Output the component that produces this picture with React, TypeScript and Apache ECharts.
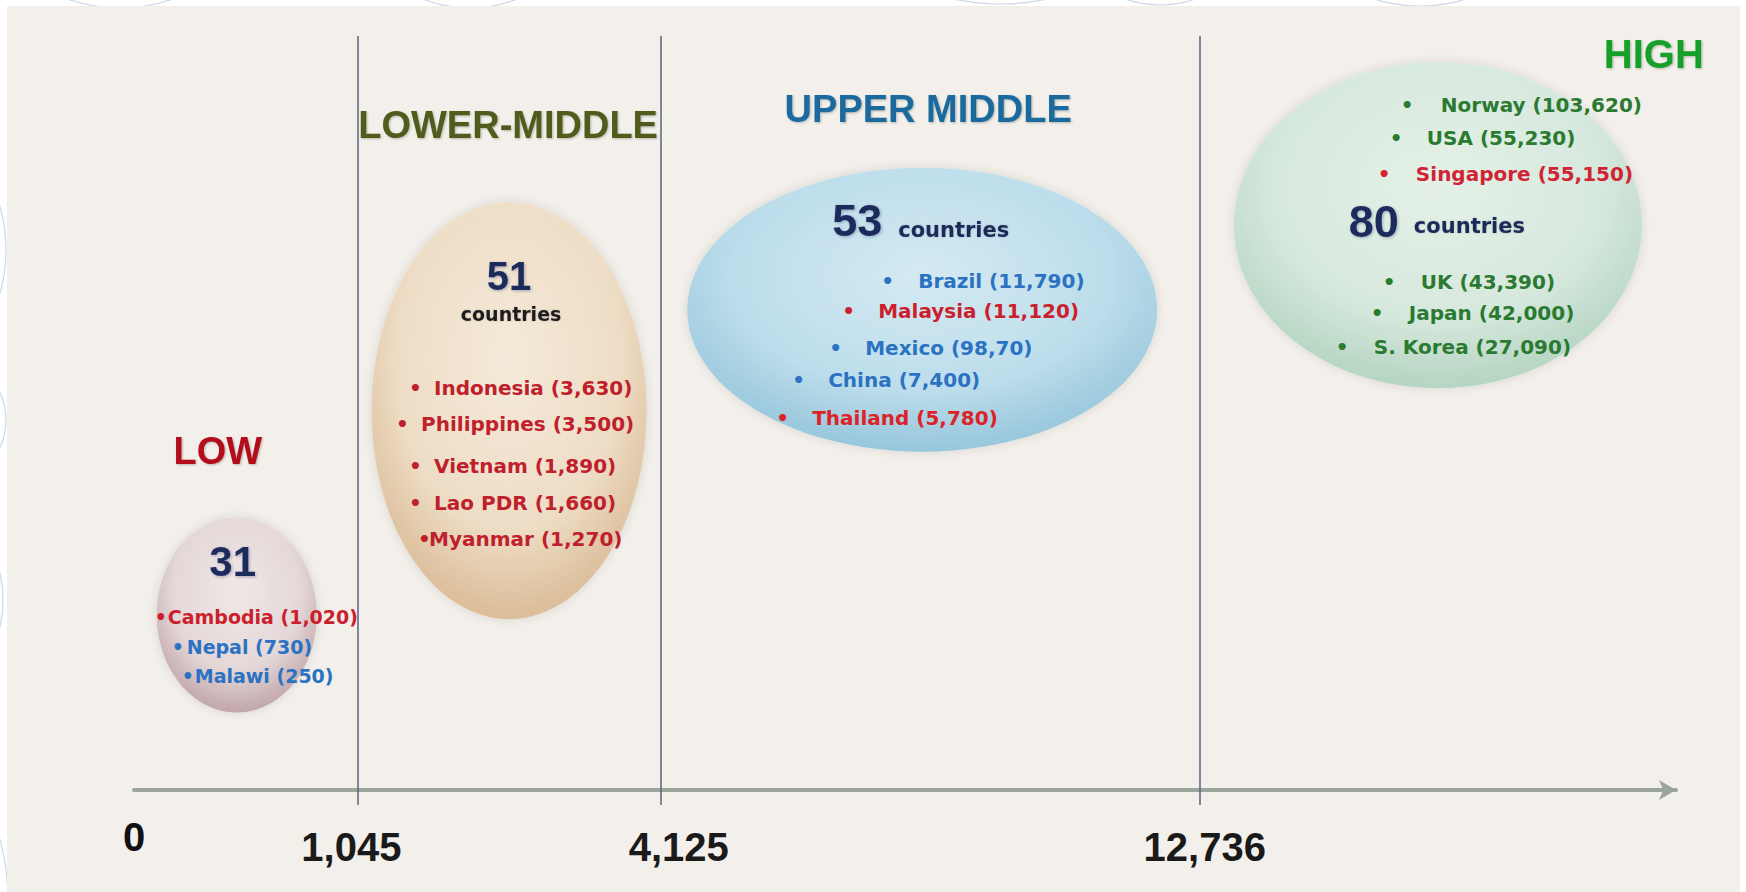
import React, { useEffect, useRef } from 'react';
import * as echarts from 'echarts';

// ---------------- data ----------------
const thresholds = [0, 1045, 4125, 12736];
const thresholdLabels = ['0', '1,045', '4,125', '12,736'];
const axisMaxIncome = 23000;

const groupNames = ['LOW', 'LOWER-MIDDLE', 'UPPER MIDDLE', 'HIGH'];
const groupCounts = [31, 51, 53, 80];

const lowCountries = ['Cambodia', 'Nepal', 'Malawi'];
const lowGni = ['1,020', '730', '250'];
const lowerMiddleCountries = ['Indonesia', 'Philippines', 'Vietnam', 'Lao PDR', 'Myanmar'];
const lowerMiddleGni = ['3,630', '3,500', '1,890', '1,660', '1,270'];
const upperMiddleCountries = ['Brazil', 'Malaysia', 'Mexico', 'China', 'Thailand'];
const upperMiddleGni = ['11,790', '11,120', '98,70', '7,400', '5,780'];
const highCountries = ['Norway', 'USA', 'Singapore', 'UK', 'Japan', 'S. Korea'];
const highGni = ['103,620', '55,230', '55,150', '43,390', '42,000', '27,090'];

const groupCountries = [lowCountries, lowerMiddleCountries, upperMiddleCountries, highCountries];
const groupGni = [lowGni, lowerMiddleGni, upperMiddleGni, highGni];

// ---------------- layout & styles ----------------
const POWER = 0.625; // display scale for the income axis
const scale = (v: number) => Math.pow(v, POWER);

const bubbleAnchor = [0.46, 0.5, 0.485, 0.5]; // where the bubble sits within its income band
const bubbleLevel = [23.2, 50.3, 63.7, 74.9]; // vertical placement on hidden 0-100 axis
const bubbleSize = [
  [160, 195],
  [275, 417],
  [470, 284],
  [408, 326],
];
const bubbleColors = [
  ['#f2eaea', '#e3d4d6', '#b8979d'],
  ['#f8ecd9', '#f0dcc0', '#d8b388'],
  ['#d0ecf6', '#b3dcee', '#84bfdb'],
  ['#e4f3ea', '#d3eadd', '#a9d1bb'],
];
const titleColors = ['#b3111e', '#4f5b1d', '#1b6b9d', '#19a02c'];
const titleSize = [38, 38, 38, 40];
const titleOffset = [
  [-19, -164],
  [-1, -286],
  [6, -201],
  [216, -171],
];
const numberOffset = [
  [-4, -54],
  [0, -135],
  [-65, -89],
  [-64, -4],
];
const numberSize = [42, 40, 45, 45];
const wordLayout: any[] = [
  null,
  { dx: 2, dy: -97, align: 'center', size: 19, color: '#1e1e1e' },
  { dx: -24, dy: -80, align: 'left', size: 21, color: '#1c2b5a' },
  { dx: -24, dy: 1, align: 'left', size: 21, color: '#1c2b5a' },
];
const lineLayout = [
  [[-82, 2, 13], [-65, 32, 15], [-55, 61, 13]],
  [[-100, -23, 25], [-113, 13, 25], [-100, 55, 25], [-100, 92, 25], [-91, 128, 11]],
  [[-41, -29, 37], [-80, 1, 36], [-93, 38, 36], [-130, 70, 36], [-146, 108, 36]],
  [[-37, -120, 40], [-48, -87, 37], [-60, -51, 38], [-55, 57, 38], [-67, 88, 38], [-102, 122, 38]],
];
const lineSize = [19, 20, 20, 20];
const tickLabelShift = [0, -6, 18, 5];
const RED = '#cc1f2d';
const BLUE = '#2c72c2';
const GREEN = '#2b7a31';
const lineColors = [
  [RED, BLUE, BLUE],
  ['#c0202c', '#c0202c', '#c0202c', '#c0202c', '#c0202c'],
  [BLUE, RED, BLUE, BLUE, '#dd2228'],
  [GREEN, GREEN, '#d02434', GREEN, GREEN, GREEN],
];

const SANS = "'Liberation Sans', Arial, sans-serif";
const BODY = "'DejaVu Sans', 'Liberation Sans', sans-serif";

export default function App() {
  const ref = useRef<HTMLDivElement>(null);

  useEffect(() => {
    const chart = echarts.init(ref.current!, null, { renderer: 'svg' });

    const bubbleX = thresholds.map((t, i) => {
      const lo = scale(t);
      const hi = scale(i + 1 < thresholds.length ? thresholds[i + 1] : axisMaxIncome);
      return lo + (hi - lo) * bubbleAnchor[i];
    });

    const rich: any = {};
    thresholdLabels.forEach((_, i) => {
      const s = tickLabelShift[i];
      rich['l' + i] = {
        fontSize: 40,
        fontWeight: i === 0 ? 900 : 'bold',
        color: i === 0 ? '#111111' : '#1a1a1a',
        fontFamily: SANS,
        padding: [i === 0 ? 0 : 10, s < 0 ? -2 * s : 0, 0, s > 0 ? 2 * s : 0],
      };
    });

    chart.setOption({
      animation: false,
      backgroundColor: '#ffffff',
      grid: { left: 134, right: 70, top: 36, bottom: 87, containLabel: false },
      xAxis: {
        type: 'value',
        min: 0,
        max: scale(axisMaxIncome),
        axisLine: {
          show: true,
          onZero: true,
          symbol: ['none', 'arrow'],
          symbolSize: [15, 17],
          lineStyle: { color: '#9ca59c', width: 4 },
        },
        axisTick: { show: false },
        splitLine: { show: false },
        axisLabel: {
          show: true,
          customValues: thresholds.map(scale),
          margin: 12,
          formatter: (v: number) => {
            const i = thresholds.findIndex((t) => Math.abs(scale(t) - v) < 1e-6);
            if (i < 0) return '';
            return `{l${i}|${thresholdLabels[i]}}`;
          },
          rich,
        },
      },
      yAxis: { type: 'value', min: -2, max: 100, show: false },
      series: [
        {
          type: 'scatter',
          symbol: 'circle',
          clip: false,
          silent: true,
          z: 3,
          data: groupCounts.map((c, i) => ({
            value: [bubbleX[i], bubbleLevel[i], c],
            symbolSize: bubbleSize[i],
            itemStyle: {
              color: {
                type: 'radial',
                x: 0.5,
                y: 0.38,
                r: 0.62,
                colorStops: [
                  { offset: 0, color: bubbleColors[i][0] },
                  { offset: 0.65, color: bubbleColors[i][1] },
                  { offset: 1, color: bubbleColors[i][2] },
                ],
              },
              shadowBlur: 10,
              shadowColor: 'rgba(0,0,0,0.15)',
            },
          })),
          markLine: {
            silent: true,
            symbol: ['none', 'none'],
            label: { show: false },
            lineStyle: { color: '#59627f', width: 1.5, type: 'solid' },
            data: thresholds.slice(1).map((t) => ({ xAxis: scale(t) })),
          },
        },
      ],
    });

    const centers = groupCounts.map((_, i) =>
      chart.convertToPixel({ gridIndex: 0 }, [bubbleX[i], bubbleLevel[i]]) as number[]
    );

    const elements: any[] = [];
    const arcs = [
      [-150, 250, 156], [-110, 600, 113], [-220, 900, 228], [-60, 420, 66],
      [120, -150, 158], [470, -120, 128], [1000, -210, 214], [1160, -100, 105], [1420, -150, 156],
    ];
    arcs.forEach(([cx, cy, r]) =>
      elements.push({
        type: 'circle', z: -20, silent: true,
        shape: { cx, cy, r },
        style: { fill: 'none', stroke: '#cdd7e3', lineWidth: 1.2 },
      })
    );
    elements.push({
      type: 'rect', z: -10, silent: true,
      shape: { x: 7, y: 6, width: 1733, height: 900 },
      style: { fill: '#f3f0eb' },
    });

    groupNames.forEach((name, i) => {
      const [cx, cy] = centers[i];
      elements.push({
        type: 'text', z: 100, silent: true,
        x: cx + titleOffset[i][0], y: cy + titleOffset[i][1],
        style: {
          text: name, fill: titleColors[i], fontSize: titleSize[i], fontWeight: 'bold', fontFamily: SANS,
          textAlign: 'center', textVerticalAlign: 'middle',
          textShadowColor: 'rgba(0,0,0,0.25)', textShadowBlur: 2, textShadowOffsetX: 1, textShadowOffsetY: 1,
        },
      });
      elements.push({
        type: 'text', z: 100, silent: true,
        x: cx + numberOffset[i][0], y: cy + numberOffset[i][1],
        style: {
          text: String(groupCounts[i]), fill: '#1b2a5c', fontSize: numberSize[i], fontWeight: 'bold', fontFamily: SANS,
          textAlign: 'center', textVerticalAlign: 'middle',
          textShadowColor: 'rgba(30,40,90,0.35)', textShadowBlur: 3, textShadowOffsetX: 1, textShadowOffsetY: 1,
        },
      });
      const w = wordLayout[i];
      if (w) {
        elements.push({
          type: 'text', z: 100, silent: true,
          x: cx + w.dx, y: cy + w.dy,
          style: {
            text: 'countries', fill: w.color, fontSize: w.size, fontWeight: 'bold', fontFamily: BODY,
            textAlign: w.align, textVerticalAlign: 'middle',
            textShadowColor: 'rgba(0,0,0,0.2)', textShadowBlur: 2,
          },
        });
      }
      groupCountries[i].forEach((country, j) => {
        const [dx, dy, bw] = lineLayout[i][j];
        const color = lineColors[i][j];
        elements.push({
          type: 'text', z: 100, silent: true,
          x: cx + dx, y: cy + dy,
          style: {
            text: `{b|•}{t|${country} (${groupGni[i][j]})}`,
            textAlign: 'left', textVerticalAlign: 'middle',
            rich: {
              b: { width: bw, fill: color, fontSize: lineSize[i], fontWeight: 'bold', fontFamily: BODY, align: 'left' },
              t: { fill: color, fontSize: lineSize[i], fontWeight: 'bold', fontFamily: BODY },
            },
          },
        });
      });
    });

    chart.setOption({ graphic: { elements } });

    return () => chart.dispose();
  }, []);

  return (
    <div
      ref={ref}
      style={{ position: 'fixed', left: 0, top: 0, width: 1746, height: 892 }}
    />
  );
}
